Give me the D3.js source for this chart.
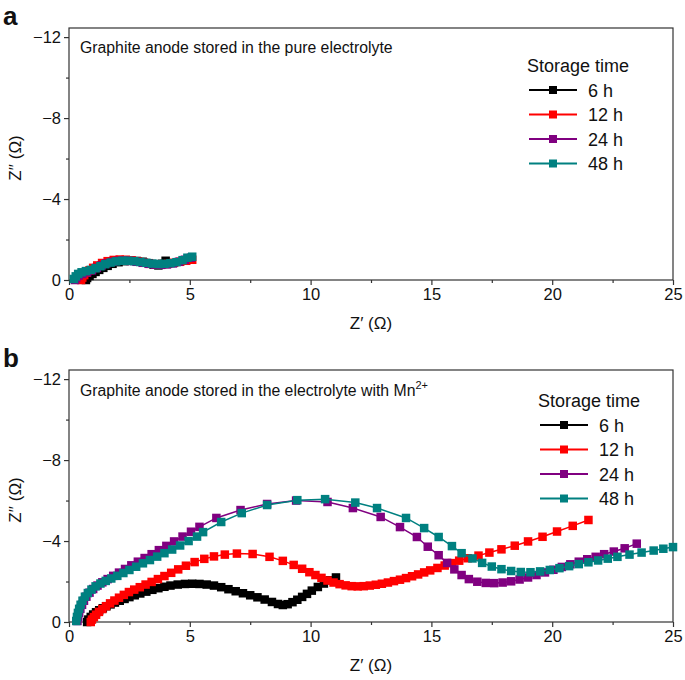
<!DOCTYPE html>
<html><head><meta charset="utf-8">
<script src="https://cdn.jsdelivr.net/npm/d3@7"></script>
<style>
body{margin:0;background:#fff}
svg text{font-family:"Liberation Sans",Arial,Helvetica,sans-serif;fill:#111}
</style>
</head><body>
<svg id="c" width="685" height="680"></svg>
<script>
const seriesNames = ["6 h", "12 h", "24 h", "48 h"];
const seriesColors = ["#000000", "#ff0000", "#800080", "#008080"];
const xTickValues = [0, 5, 10, 15, 20, 25];
const xMinorValues = [2.5, 7.5, 12.5, 17.5, 22.5];
const yTickValues = [0, 4, 8, 12];
const yTickLabels = ["0", "\u22124", "\u22128", "\u221212"];
const yMinorValues = [2, 6, 10];

// Panel a: [Z', -Z'']
const a_6h = [[0.7,0.0],[0.75,0.1],[0.85,0.2],[0.97,0.3],[1.1,0.4],[1.25,0.5],[1.42,0.6],[1.6,0.7],[1.8,0.8],[2.05,0.88],[2.3,0.93],[2.55,0.95],[2.8,0.94],[3.05,0.9],[3.3,0.83],[3.5,0.76],[3.7,0.72],[3.85,0.8],[4.0,0.95]];
const a_12h = [[0.5,0.0],[0.55,0.12],[0.63,0.24],[0.73,0.36],[0.85,0.48],[1.0,0.6],[1.17,0.72],[1.37,0.84],[1.6,0.93],[1.85,0.99],[2.1,1.01],[2.35,1.0],[2.6,0.97],[2.85,0.92],[3.1,0.86],[3.35,0.8],[3.6,0.77],[3.85,0.77],[4.1,0.8],[4.35,0.85],[4.6,0.9],[4.85,0.95],[5.1,1.0]];
const a_24h = [[0.25,0.0],[0.3,0.12],[0.4,0.22],[0.55,0.3],[0.75,0.38],[0.95,0.48],[1.15,0.6],[1.35,0.72],[1.55,0.82],[1.8,0.9],[2.05,0.95],[2.3,0.96],[2.55,0.94],[2.8,0.9],[3.05,0.85],[3.3,0.8],[3.55,0.76],[3.8,0.75],[4.05,0.77],[4.3,0.82],[4.55,0.9],[4.8,1.0],[5.05,1.1]];
const a_48h = [[0.2,0.05],[0.28,0.18],[0.38,0.3],[0.52,0.38],[0.7,0.44],[0.9,0.5],[1.1,0.58],[1.3,0.68],[1.5,0.78],[1.72,0.86],[1.95,0.92],[2.2,0.95],[2.45,0.95],[2.7,0.93],[2.95,0.89],[3.2,0.85],[3.45,0.81],[3.7,0.79],[3.95,0.8],[4.2,0.83],[4.45,0.88],[4.7,0.98],[4.9,1.1],[5.1,1.15]];

// Panel b: [Z', -Z'']
const b_6h = [[0.75,0.0],[0.8,0.12],[0.9,0.25],[1.0,0.37],[1.12,0.48],[1.25,0.58],[1.4,0.68],[1.55,0.78],[1.72,0.87],[1.9,0.96],[2.1,1.05],[2.3,1.14],[2.5,1.23],[2.72,1.32],[2.95,1.41],[3.2,1.5],[3.45,1.59],[3.7,1.67],[3.95,1.74],[4.2,1.8],[4.5,1.85],[4.8,1.88],[5.1,1.89],[5.4,1.88],[5.7,1.85],[6.0,1.8],[6.3,1.72],[6.6,1.62],[6.9,1.52],[7.2,1.42],[7.5,1.32],[7.8,1.22],[8.1,1.11],[8.4,0.99],[8.65,0.89],[8.85,0.84],[9.05,0.88],[9.25,0.98],[9.45,1.1],[9.65,1.24],[9.85,1.39],[10.05,1.55],[10.3,1.73],[10.55,1.9],[10.8,2.06],[11.05,2.2]];
const b_12h = [[0.9,0.0],[0.95,0.12],[1.03,0.24],[1.12,0.36],[1.24,0.5],[1.38,0.64],[1.53,0.78],[1.7,0.92],[1.88,1.06],[2.07,1.2],[2.27,1.34],[2.48,1.48],[2.7,1.6],[2.93,1.72],[3.17,1.85],[3.42,1.98],[3.68,2.12],[3.95,2.27],[4.23,2.43],[4.52,2.6],[4.84,2.78],[5.2,2.96],[5.6,3.12],[6.0,3.24],[6.45,3.33],[6.95,3.38],[7.6,3.36],[8.3,3.22],[8.85,3.02],[9.3,2.82],[9.65,2.63],[9.95,2.46],[10.2,2.32],[10.45,2.18],[10.7,2.05],[10.95,1.95],[11.2,1.87],[11.45,1.81],[11.7,1.77],[11.95,1.76],[12.2,1.77],[12.45,1.8],[12.7,1.84],[12.95,1.89],[13.2,1.95],[13.45,2.02],[13.7,2.09],[13.95,2.17],[14.2,2.26],[14.45,2.35],[14.7,2.45],[14.95,2.55],[15.25,2.67],[15.55,2.79],[15.85,2.91],[16.15,3.03],[16.5,3.15],[16.95,3.28],[17.4,3.43],[17.9,3.59],[18.45,3.77],[19.0,3.98],[19.6,4.21],[20.2,4.47],[20.85,4.75],[21.5,5.04]];
const b_24h = [[0.35,0.05],[0.38,0.25],[0.42,0.45],[0.47,0.65],[0.54,0.85],[0.62,1.05],[0.72,1.25],[0.85,1.45],[1.0,1.63],[1.18,1.8],[1.38,1.96],[1.6,2.12],[1.83,2.28],[2.07,2.44],[2.32,2.62],[2.58,2.8],[2.85,2.98],[3.13,3.16],[3.42,3.35],[3.72,3.55],[4.03,3.76],[4.35,3.98],[4.7,4.22],[5.05,4.46],[5.4,4.7],[6.1,5.14],[7.1,5.53],[8.2,5.83],[9.4,6.0],[10.7,5.93],[11.75,5.63],[12.9,5.19],[13.7,4.69],[14.4,4.2],[14.85,3.72],[15.3,3.3],[15.65,2.92],[15.95,2.6],[16.25,2.32],[16.55,2.12],[16.9,1.99],[17.25,1.93],[17.6,1.92],[17.95,1.95],[18.3,2.01],[18.65,2.1],[19.0,2.2],[19.35,2.32],[19.7,2.45],[20.05,2.58],[20.4,2.72],[20.75,2.85],[21.1,2.98],[21.45,3.1],[21.8,3.22],[22.15,3.35],[22.55,3.48],[23.0,3.64],[23.5,3.87]];
const b_48h = [[0.3,0.05],[0.33,0.25],[0.37,0.45],[0.42,0.65],[0.48,0.85],[0.56,1.05],[0.66,1.25],[0.78,1.43],[0.93,1.6],[1.1,1.76],[1.3,1.9],[1.52,2.03],[1.75,2.15],[2.0,2.28],[2.25,2.42],[2.5,2.57],[2.78,2.73],[3.06,2.9],[3.35,3.06],[3.65,3.23],[3.95,3.4],[4.27,3.58],[4.6,3.78],[4.95,4.0],[5.3,4.22],[5.55,4.44],[6.3,4.94],[7.15,5.38],[8.2,5.78],[9.45,6.02],[10.6,6.07],[11.85,5.9],[12.75,5.63],[13.95,5.14],[14.7,4.64],[15.3,4.2],[15.85,3.75],[16.25,3.4],[16.7,3.14],[17.1,2.92],[17.5,2.74],[17.9,2.61],[18.3,2.52],[18.7,2.47],[19.1,2.46],[19.5,2.5],[19.9,2.57],[20.3,2.66],[20.7,2.76],[21.1,2.86],[21.5,2.95],[21.9,3.04],[22.3,3.13],[22.7,3.22],[23.2,3.33],[23.7,3.43],[24.2,3.53],[24.6,3.62],[25.0,3.7]];

const panelA = [a_6h, a_12h, a_24h, a_48h];
const panelB = [b_6h, b_12h, b_24h, b_48h];

const svg = d3.select("#c");
const L = 69, R = 673, H = 252;
const x = d3.scaleLinear().domain([0, 25]).range([L, R]);

function drawPanel(top, data, letter, titleFn, titleY, legX, legTitleY, legRowY) {
  const bottom = top + H;
  const y = d3.scaleLinear().domain([0, 12.45]).range([bottom, top]);
  const g = svg.append("g");

  // frame
  g.append("rect").attr("x", L).attr("y", top).attr("width", R - L).attr("height", H)
    .attr("fill", "none").attr("stroke", "#333").attr("stroke-width", 1.2);

  // x axis
  const xa = g.append("g").attr("transform", `translate(0,${bottom})`)
    .call(d3.axisBottom(x).tickValues(xTickValues).tickSize(5).tickPadding(3).tickFormat(d3.format("d")));
  xa.select(".domain").remove();
  xa.selectAll("line").attr("stroke", "#333").attr("stroke-width", 1.2);
  xa.selectAll("text").attr("font-size", 16.5).attr("fill", "#111");
  const xm = g.append("g").attr("transform", `translate(0,${bottom})`)
    .call(d3.axisBottom(x).tickValues(xMinorValues).tickSize(3).tickFormat(""));
  xm.select(".domain").remove();
  xm.selectAll("line").attr("stroke", "#333").attr("stroke-width", 1.2);

  // y axis
  const ya = g.append("g").attr("transform", `translate(${L},0)`)
    .call(d3.axisLeft(y).tickValues(yTickValues).tickSize(5).tickPadding(3)
      .tickFormat((d, i) => yTickLabels[i]));
  ya.select(".domain").remove();
  ya.selectAll("line").attr("stroke", "#333").attr("stroke-width", 1.2);
  ya.selectAll("text").attr("font-size", 16.5).attr("fill", "#111");
  const ym = g.append("g").attr("transform", `translate(${L},0)`)
    .call(d3.axisLeft(y).tickValues(yMinorValues).tickSize(3).tickFormat(""));
  ym.select(".domain").remove();
  ym.selectAll("line").attr("stroke", "#333").attr("stroke-width", 1.2);

  // axis titles
  g.append("text").attr("x", (L + R) / 2).attr("y", bottom + 49).attr("text-anchor", "middle")
    .attr("font-size", 17).text("Z\u2032 (\u03A9)");
  g.append("text").attr("transform", `translate(21,${(top + bottom) / 2 + 4}) rotate(-90)`)
    .attr("text-anchor", "middle").attr("font-size", 17).text("Z\u2032\u2032 (\u03A9)");

  // panel letter
  g.append("text").attr("x", 3).attr("y", top - 3).attr("font-size", 26).attr("font-weight", "bold")
    .attr("fill", "#000").text(letter);

  // title
  titleFn(g.append("text").attr("x", 80).attr("y", titleY).attr("font-size", 15.8));

  // series
  const line = d3.line().x(d => x(d[0])).y(d => y(d[1]));
  const ms = 8.5;
  data.forEach((s, i) => {
    g.append("path").datum(s).attr("d", line).attr("fill", "none")
      .attr("stroke", seriesColors[i]).attr("stroke-width", 1.5);
    g.selectAll(null).data(s).enter().append("rect")
      .attr("x", d => x(d[0]) - ms / 2).attr("y", d => y(d[1]) - ms / 2)
      .attr("width", ms).attr("height", ms).attr("fill", seriesColors[i]);
  });

  // legend
  g.append("text").attr("x", legX - 2).attr("y", legTitleY + 6).attr("font-size", 18).text("Storage time");
  seriesNames.forEach((n, i) => {
    const cy = legRowY[i];
    g.append("line").attr("x1", legX).attr("x2", legX + 48).attr("y1", cy).attr("y2", cy)
      .attr("stroke", seriesColors[i]).attr("stroke-width", 2);
    g.append("rect").attr("x", legX + 24 - 4).attr("y", cy - 4).attr("width", 8).attr("height", 8)
      .attr("fill", seriesColors[i]);
    g.append("text").attr("x", legX + 59).attr("y", cy + 6.5).attr("font-size", 18).text(n);
  });
}

drawPanel(28, panelA, "a",
  t => t.text("Graphite anode stored in the pure electrolyte"),
  53, 529, 66, [90, 114.5, 139, 163.5]);

drawPanel(370, panelB, "b",
  t => { t.append("tspan").text("Graphite anode stored in the electrolyte with Mn");
         t.append("tspan").attr("font-size", 11).attr("dy", -7).text("2+"); },
  396, 540, 401, [425, 449.5, 474, 498.5]);
</script>
</body></html>
